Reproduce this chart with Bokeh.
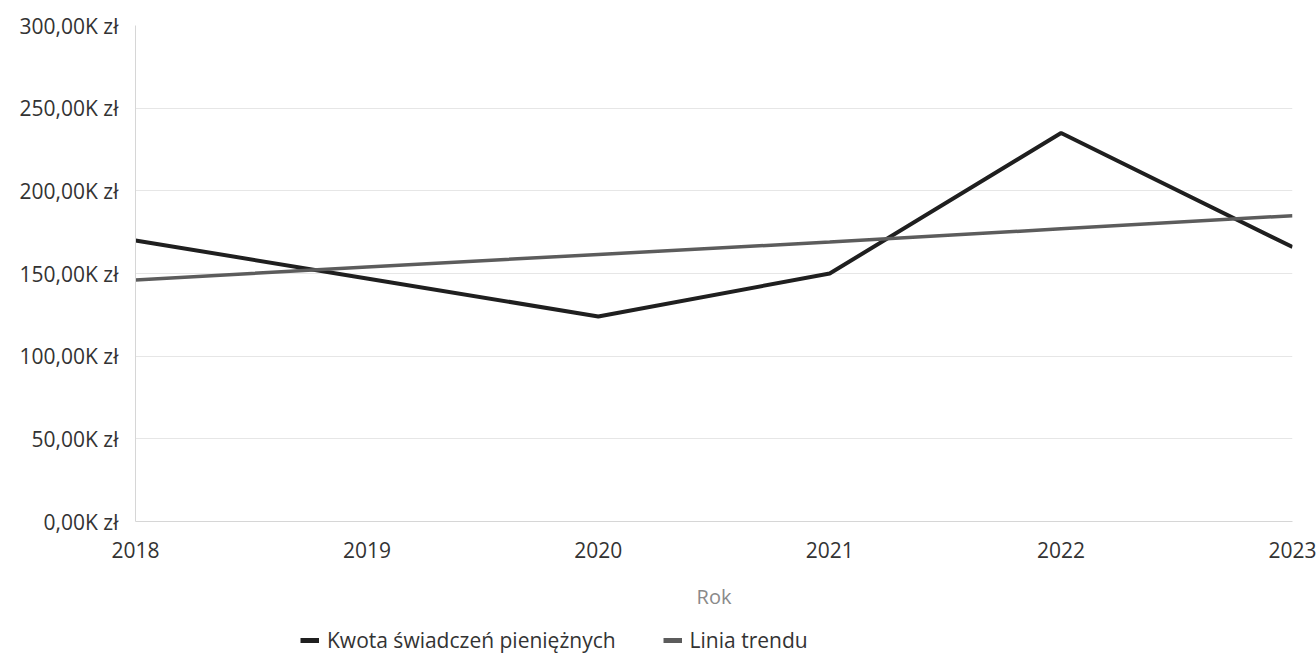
from bokeh.plotting import figure
from bokeh.layouts import column
from bokeh.models import FixedTicker, CustomJSTickFormatter, Legend, LegendItem, Range1d
from bokeh.embed import file_html
from bokeh.resources import INLINE

years = [2018, 2019, 2020, 2021, 2022, 2023]
kwota = [170000, 147000, 124000, 150000, 235000, 166000]
trend = [146000, 154000, 161500, 169000, 177000, 185000]
y_ticks = [0, 50000, 100000, 150000, 200000, 250000, 300000]
series_names = ["Kwota świadczeń pieniężnych", "Linia trendu"]
x_title = "Rok"

FONT = "Open Sans"
C_MAIN = "#1f1f1f"
C_TREND = "#5c5c5c"

p = figure(width=1316, height=612, output_backend="svg", toolbar_location=None,
           x_range=Range1d(2018, 2023), y_range=Range1d(0, 300000),
           min_border_left=135, min_border_right=24, min_border_top=25, min_border_bottom=90)
p.outline_line_color = None

r1 = p.line(years, kwota, line_color=C_MAIN, line_width=4)
r2 = p.line(years, trend, line_color=C_TREND, line_width=3.5)

p.xaxis.ticker = FixedTicker(ticks=years)
p.yaxis.ticker = FixedTicker(ticks=y_ticks)
p.yaxis.formatter = CustomJSTickFormatter(code="return (tick/1000).toFixed(2).replace('.', ',') + 'K zł';")

for ax in (p.xaxis[0], p.yaxis[0]):
    ax.axis_line_color = "#d6d6d6"
    ax.major_tick_line_color = None
    ax.minor_tick_line_color = None
    ax.major_tick_out = 0
    ax.major_tick_in = 0
    ax.major_label_text_font = FONT
    ax.major_label_text_font_size = "21px"
    ax.major_label_text_color = "#333333"

p.yaxis.major_label_standoff = 17
p.xaxis.major_label_standoff = 20
p.xaxis.axis_label = x_title
p.xaxis.axis_label_text_font = FONT
p.xaxis.axis_label_text_font_size = "20px"
p.xaxis.axis_label_text_font_style = "normal"
p.xaxis.axis_label_text_color = "#8a8a8a"
p.xaxis.axis_label_standoff = 22

p.xgrid.grid_line_color = None
p.ygrid.grid_line_color = "#e6e6e6"
p.ygrid.grid_line_width = 1

# legend strip below the chart (its frame is aligned with the chart frame)
p2 = figure(width=1316, height=42, output_backend="svg", toolbar_location=None,
            x_range=Range1d(0, 1), y_range=Range1d(0, 1),
            min_border_left=0, min_border_right=0, min_border_top=0, min_border_bottom=0)
p2.axis.visible = False
p2.grid.visible = False
p2.outline_line_color = None
d1 = p2.line([-10, -9], [-10, -10], line_color=C_MAIN, line_width=5)
d2 = p2.line([-10, -9], [-10, -10], line_color=C_TREND, line_width=5)

legend = Legend(items=[LegendItem(label=series_names[0], renderers=[d1]),
                       LegendItem(label=series_names[1], renderers=[d2])],
                orientation="horizontal", location=(165, 0),
                label_text_font=FONT, label_text_font_size="21px", label_text_color="#333333",
                glyph_width=19, glyph_height=20, label_height=20, spacing=47, label_standoff=8,
                border_line_color=None, background_fill_alpha=0, padding=0, margin=0)
p2.add_layout(legend, "center")

open("out.html", "w").write(file_html(column(p, p2, spacing=0), INLINE))
